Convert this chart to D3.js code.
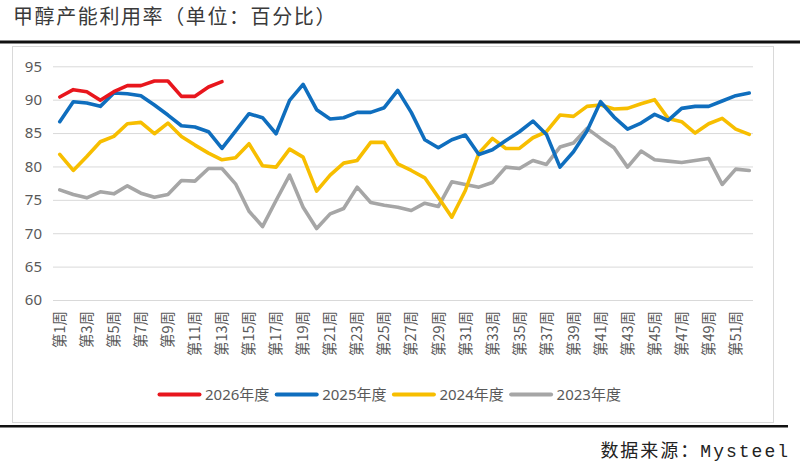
<!DOCTYPE html>
<html>
<head>
<meta charset="utf-8">
<script src="https://cdn.jsdelivr.net/npm/d3@7"></script>
<style>
  body { margin: 0; background: #fff; }
  svg { display: block; }
</style>
</head>
<body>
<svg id="chart" width="800" height="467"></svg>
<script>
// weeks 1..52
var weeks = d3.range(1, 53);
var xLabels = weeks.filter(function(w){ return w % 2 === 1; });
var yTicks = [60, 65, 70, 75, 80, 85, 90, 95];

var seriesNames = ["2026年度", "2025年度", "2024年度", "2023年度"];
var seriesColors = ["#E8161D", "#0F6EBE", "#F7BE00", "#A6A6A6"];

var v2026 = [90.4,91.5,91.2,89.9,91.2,92.1,92.1,92.8,92.8,90.5,90.5,91.9,92.7];
var v2025 = [86.7,89.7,89.5,89.0,91.0,90.9,90.6,89.2,87.7,86.1,
             85.9,85.2,82.7,85.3,87.9,87.3,84.9,89.9,92.3,88.5,
             87.1,87.3,88.1,88.1,88.8,91.4,88.1,84.0,82.8,84.0,
             84.7,81.8,82.5,83.9,85.2,86.8,84.8,79.9,82.2,85.3,
             89.7,87.4,85.6,86.5,87.8,86.9,88.7,89.0,89.0,89.8,
             90.6,91.0];
var v2024 = [81.8,79.4,81.5,83.7,84.5,86.4,86.6,84.9,86.5,84.5,
             83.2,82.0,81.0,81.3,83.4,80.1,79.9,82.6,81.4,76.3,
             78.7,80.5,80.9,83.6,83.6,80.4,79.4,78.3,75.4,72.4,
             76.4,82.0,84.2,82.7,82.7,84.3,85.2,87.7,87.5,89.0,
             89.2,88.6,88.7,89.4,90.0,87.2,86.7,85.0,86.4,87.2,
             85.6,84.8];
var v2023 = [76.5,75.8,75.3,76.2,75.9,77.1,76.0,75.4,75.8,77.9,
             77.8,79.7,79.7,77.4,73.3,71.0,74.9,78.7,73.9,70.7,
             72.9,73.7,76.9,74.6,74.2,73.9,73.4,74.5,74.0,77.7,
             77.3,76.9,77.6,79.9,79.7,80.9,80.3,82.9,83.5,85.7,
             84.2,82.8,79.9,82.3,81.0,80.8,80.6,80.9,81.2,77.3,
             79.6,79.4];
var seriesValues = [v2026, v2025, v2024, v2023];

var svg = d3.select("#chart");
var cnFont = "'Noto Sans CJK SC', sans-serif";
var numFont = "'Noto Sans', 'Noto Sans CJK SC', sans-serif";

// title + rules
svg.append("text").attr("x", 13).attr("y", 24).text("甲醇产能利用率（单位：百分比）")
   .style("font-family", cnFont).style("font-size", "20px").style("letter-spacing", "1.6px").style("fill", "#3a3a3a");
svg.append("rect").attr("x", 0).attr("y", 40.5).attr("width", 800).attr("height", 3).style("fill", "#111");

// chart frame
svg.append("rect").attr("x", 12.5).attr("y", 46.5).attr("width", 761).attr("height", 376)
   .style("fill", "none").style("stroke", "#D9D9D9").style("stroke-width", 1);

svg.append("rect").attr("x", 0).attr("y", 425).attr("width", 788).attr("height", 2.5).style("fill", "#111");
svg.append("text").attr("x", 790).attr("y", 457).attr("text-anchor", "end").text("数据来源：Mysteel")
   .style("font-family", "'Liberation Mono', 'Noto Sans CJK SC', monospace").style("font-size", "18px")
   .style("letter-spacing", "2px").style("fill", "#222");

var x = d3.scaleBand().domain(weeks).range([53, 756]);
var y = d3.scaleLinear().domain([60, 95]).range([300, 66.3]);
var cx = function(w){ return x(w) + x.bandwidth() / 2; };

// y axis + gridlines
var yAxis = svg.append("g").attr("transform", "translate(53,0)")
   .call(d3.axisLeft(y).tickValues(yTicks).tickSize(-700).tickPadding(11));
yAxis.select(".domain").remove();
yAxis.selectAll(".tick line").style("stroke", "#D9D9D9").style("stroke-width", 1);
yAxis.selectAll("text").style("font-family", numFont).style("font-size", "15px").style("fill", "#595959");

// x axis (rotated labels)
var xAxis = svg.append("g").attr("transform", "translate(0,300)")
   .call(d3.axisBottom(x).tickValues(xLabels).tickSize(0).tickFormat(function(w){ return "第" + w + "周"; }));
xAxis.select(".domain").remove();
xAxis.selectAll("text")
   .attr("transform", "rotate(-90)").attr("text-anchor", "end")
   .attr("x", -11).attr("y", 0).attr("dy", "0.36em")
   .style("font-family", cnFont).style("font-size", "14.5px").style("fill", "#595959");

// lines (draw older years first)
var line = d3.line().x(function(d, i){ return cx(weeks[i]); }).y(function(d){ return y(d); });
for (var s = seriesValues.length - 1; s >= 0; s--) {
  svg.append("path").datum(seriesValues[s]).attr("d", line)
     .style("fill", "none").style("stroke", seriesColors[s]).style("stroke-width", 3.6)
     .style("stroke-linejoin", "round").style("stroke-linecap", "round");
}

// legend
var lg = svg.append("g").selectAll("g").data(seriesNames).enter().append("g")
   .attr("transform", function(d, i){ return "translate(" + (159.5 + i * 117.2) + ",394.5)"; });
lg.append("line").attr("x1", 0).attr("x2", 40).attr("y1", 0).attr("y2", 0)
   .style("stroke", function(d, i){ return seriesColors[i]; }).style("stroke-width", 4).style("stroke-linecap", "round");
lg.append("text").attr("x", 45.5).attr("y", 0).attr("dy", "0.36em").text(function(d){ return d; })
   .style("font-family", numFont).style("font-size", "15px").style("fill", "#595959");
</script>
</body>
</html>
